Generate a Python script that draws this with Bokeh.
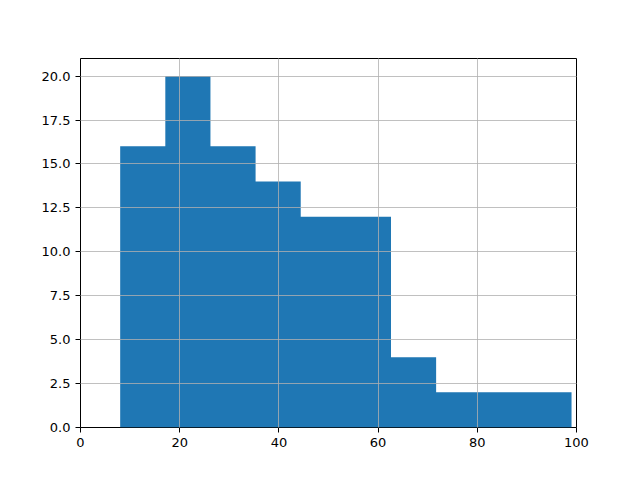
from bokeh.plotting import figure
from bokeh.models import FixedTicker, NumeralTickFormatter, Range1d
from bokeh.embed import file_html
from bokeh.resources import INLINE

# histogram bin edges and counts
edges = [8.0, 17.1, 26.2, 35.3, 44.4, 53.5, 62.6, 71.7, 80.8, 89.9, 99.0]
counts = [16, 20, 16, 14, 12, 12, 4, 2, 2, 2]
x_ticks = [0, 20, 40, 60, 80, 100]
y_ticks = [0, 2.5, 5, 7.5, 10, 12.5, 15, 17.5, 20]

p = figure(width=640, height=480, output_backend="svg", toolbar_location=None,
           x_range=Range1d(0, 100), y_range=Range1d(0, 21))
p.min_border_left = 80
p.min_border_right = 64
p.min_border_top = 58
p.min_border_bottom = 53
p.frame_width = 496
p.frame_height = 369

# one stepped area so there are no seams between the bars
p.varea_step(x=edges, y1=[0] * len(edges), y2=counts + [counts[-1]],
             step_mode="after", fill_color="#1f77b4")

p.outline_line_color = "black"
p.outline_line_width = 1
p.xaxis.ticker = FixedTicker(ticks=x_ticks)
p.yaxis.ticker = FixedTicker(ticks=y_ticks)
p.yaxis.formatter = NumeralTickFormatter(format="0.0")
for ax in (p.xaxis, p.yaxis):
    ax.major_label_text_font = "DejaVu Sans"
    ax.major_label_text_font_size = "13px"
    ax.major_label_text_color = "black"
    ax.axis_line_color = None
    ax.major_tick_line_color = "black"
    ax.major_tick_out = 5
    ax.major_tick_in = 0
    ax.minor_tick_line_color = None
p.grid.grid_line_color = "#b0b0b0"
p.grid.grid_line_width = 0.8
p.grid.level = "overlay"

open("out.html", "w").write(file_html(p, INLINE))
